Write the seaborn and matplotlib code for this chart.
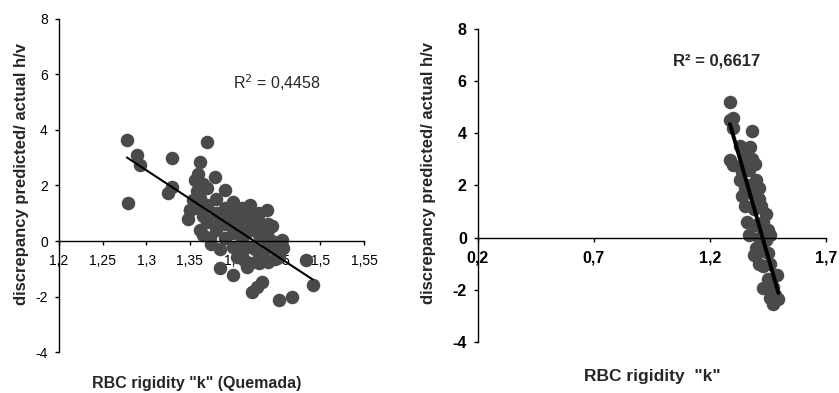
import numpy as np
import pandas as pd
import seaborn as sns
from matplotlib import pyplot as plt

# left panel: rigidity k (Quemada) vs discrepancy
left_k = [1.278, 1.279, 1.289, 1.293, 1.330, 1.330, 1.325, 1.370, 1.362, 1.379,
          1.390, 1.356, 1.354, 1.350, 1.348, 1.419, 1.439, 1.445, 1.456, 1.457,
          1.362, 1.373, 1.385, 1.404, 1.419, 1.434, 1.453, 1.385, 1.400, 1.416,
          1.427, 1.433, 1.421, 1.453, 1.467, 1.483, 1.491,
          1.360, 1.370, 1.370, 1.360, 1.370, 1.380, 1.380, 1.380, 1.390, 1.390,
          1.390, 1.400, 1.400, 1.400, 1.400, 1.410, 1.410, 1.410, 1.410, 1.420,
          1.420, 1.420, 1.430, 1.430, 1.430, 1.430, 1.440, 1.440, 1.440, 1.450,
          1.450, 1.350, 1.355, 1.365, 1.375, 1.395, 1.405, 1.415, 1.425, 1.435,
          1.445, 1.365, 1.385, 1.425,
          1.358, 1.365, 1.362, 1.430, 1.440, 1.448, 1.412, 1.452, 1.360]
left_d = [3.64, 1.37, 3.10, 2.74, 2.99, 1.95, 1.73, 3.57, 2.85, 2.30,
          1.84, 2.20, 1.48, 1.10, 0.80, 1.30, 1.12, 0.55, 0.05, -0.25,
          0.40, 0.10, -0.30, -0.58, -0.80, -0.44, -0.58, -0.98, -1.22, -0.94,
          -1.66, -1.48, -1.84, -2.13, -2.00, -0.68, -1.58,
          1.60, 1.90, 1.30, 1.20, 0.70, 1.00, 0.40, 1.50, 1.20, 0.60,
          0.10, 1.00, 0.30, -0.20, 1.40, 0.80, 0.00, -0.40, 1.20, 0.50,
          0.90, -0.20, 0.20, 0.70, 1.00, -0.50, 0.40, -0.20, 0.60, -0.20,
          -0.50, 1.10, 1.30, 0.20, -0.10, 0.90, 0.60, 0.30, 0.40, 0.10,
          0.00, 0.90, 0.70, -0.30,
          1.80, 2.05, 1.55, -0.80, -0.75, -0.65, -0.70, -0.45, 2.40]

# right panel: rigidity k vs discrepancy
right_k = [1.286, 1.286, 1.300, 1.286, 1.300, 1.380, 1.372, 1.394, 1.350, 1.330,
           1.340, 1.370, 1.400, 1.360, 1.340, 1.380, 1.410, 1.350, 1.390, 1.420,
           1.440, 1.360, 1.400, 1.430, 1.450, 1.370, 1.410, 1.440, 1.460, 1.390,
           1.400, 1.420, 1.450, 1.410, 1.430, 1.460, 1.490, 1.430, 1.450, 1.470,
           1.470, 1.495, 1.460, 1.330, 1.360, 1.410, 1.380, 1.350, 1.300, 1.480]
right_d = [5.20, 4.50, 4.20, 2.97, 2.80, 4.10, 3.46, 2.82, 3.20, 3.50,
           2.50, 2.60, 2.20, 2.00, 1.60, 1.70, 1.50, 1.20, 1.10, 1.20,
           0.90, 0.60, 0.50, 0.60, 0.30, 0.10, 0.00, -0.10, 0.10, -0.68,
           -0.40, -0.50, -0.60, -1.00, -1.10, -1.00, -1.43, -1.92, -1.60, -1.90,
           -2.55, -2.37, -2.30, 2.20, 2.90, 1.90, 3.00, 1.90, 4.60, -2.20]

left_xticks = [1.2, 1.25, 1.3, 1.35, 1.4, 1.45, 1.5, 1.55]
right_xticks = [0.2, 0.7, 1.2, 1.7]
yticks = [-4, -2, 0, 2, 4, 6, 8]

sns.set_style("white")
plt.rcParams['font.family'] = ['Liberation Sans', 'DejaVu Sans']

fig = plt.figure(figsize=(8.39, 3.93), dpi=100)
ax1 = fig.add_axes([0.0703, 0.104, 0.3635, 0.848])
ax2 = fig.add_axes([0.5697, 0.130, 0.4148, 0.796])

dot = '#4a4a4a'


def comma(v):
    s = f"{v:g}"
    return s.replace('.', ',')


def style_axis(ax, xticks, bold_ticks):
    ax.set_ylim(-4, 8)
    ax.set_xlim(xticks[0], xticks[-1])
    for s in ['top', 'right']:
        ax.spines[s].set_visible(False)
    ax.spines['bottom'].set_position(('data', 0))
    for s in ['left', 'bottom']:
        ax.spines[s].set_color('black')
        ax.spines[s].set_linewidth(1.0)
    ax.set_xticks(xticks)
    ax.set_xticklabels([comma(v) for v in xticks])
    ax.set_yticks(yticks)
    ax.set_yticklabels([str(v) for v in yticks])
    ax.tick_params(axis='both', direction='out', length=3, width=1,
                   colors='black', labelsize=11.5 if bold_ticks else 10)
    ax.tick_params(axis='x', pad=6)
    ax.tick_params(axis='y', pad=5)
    fw = 'bold' if bold_ticks else 'normal'
    for lab in ax.get_xticklabels() + ax.get_yticklabels():
        lab.set_fontweight(fw)
    ax.tick_params(left=True, bottom=True)


df1 = pd.DataFrame({'k': left_k, 'd': left_d})
df2 = pd.DataFrame({'k': right_k, 'd': right_d})

sns.regplot(data=df1, x='k', y='d', ax=ax1, ci=None,
            scatter_kws={'s': 95, 'color': dot, 'alpha': 1, 'linewidths': 0},
            line_kws={'color': 'black', 'lw': 1.5})
sns.regplot(data=df2, x='k', y='d', ax=ax2, ci=None,
            scatter_kws={'s': 95, 'color': dot, 'alpha': 1, 'linewidths': 0},
            line_kws={'color': 'black', 'lw': 2.8})

style_axis(ax1, left_xticks, False)
style_axis(ax2, right_xticks, True)

ax1.set_xlabel('RBC rigidity "k" (Quemada)', fontsize=11.5, fontweight='bold')
ax1.xaxis.set_label_coords(0.45, -0.072)
ax1.set_ylabel('discrepancy predicted/ actual h/v', fontsize=12, fontweight='bold')
ax1.yaxis.set_label_coords(-0.098, 0.535)

ax2.set_xlabel('RBC rigidity  "k"', fontsize=12.5, fontweight='bold')
ax2.xaxis.set_label_coords(0.5, -0.085)
ax2.set_ylabel('discrepancy predicted/ actual h/v', fontsize=12, fontweight='bold')
ax2.yaxis.set_label_coords(-0.121, 0.54)

ax1.text(1.45, 5.7, r'R$^2$ = 0,4458', fontsize=11.5, ha='center', va='center')
ax2.text(1.23, 6.77, 'R² = 0,6617', fontsize=12, fontweight='bold',
         ha='center', va='center')

fig.savefig('out.png', dpi=100)
